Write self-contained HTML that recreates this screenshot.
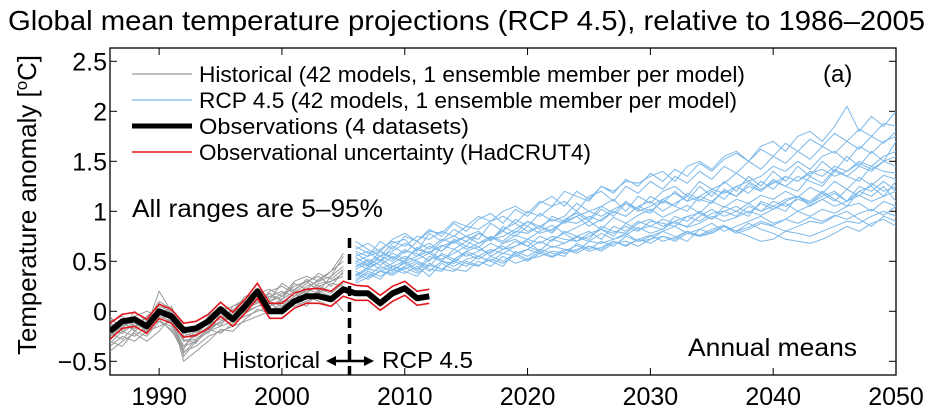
<!DOCTYPE html>
<html><head><meta charset="utf-8"><style>
body{margin:0;background:#fff;}
svg{display:block;font-family:"Liberation Sans",sans-serif;}
</style></head><body>
<svg id="chart" width="933" height="413">
<text x="8" y="30" font-size="28" textLength="917" lengthAdjust="spacingAndGlyphs">Global mean temperature projections (RCP 4.5), relative to 1986–2005</text>
<g id="plot"></g>
<text transform="translate(36,205) rotate(-90)" font-size="26" text-anchor="middle" textLength="300" lengthAdjust="spacingAndGlyphs">Temperature anomaly  [<tspan baseline-shift="super" font-size="17">o</tspan>C]</text>
</svg>
<script>
const xTicks=[1990,2000,2010,2020,2030,2040,2050];
const yTicks=[-0.5,0,0.5,1,1.5,2,2.5];
const yTickLabels=["−0.5","0","0.5","1","1.5","2","2.5"];
const obsYears=[1986,1987,1988,1989,1990,1991,1992,1993,1994,1995,1996,1997,1998,1999,2000,2001,2002,2003,2004,2005,2006,2007,2008,2009,2010,2011,2012];
const obs=[-0.2,-0.1,-0.08,-0.15,0.0,-0.05,-0.19,-0.17,-0.1,0.02,-0.08,0.05,0.2,0.0,0.0,0.1,0.15,0.15,0.12,0.22,0.18,0.18,0.08,0.18,0.23,0.13,0.15];
const obsUpper=[-0.12,-0.03,-0.01,-0.08,0.07,0.02,-0.12,-0.1,-0.03,0.09,-0.01,0.12,0.28,0.08,0.08,0.18,0.22,0.23,0.2,0.3,0.26,0.25,0.16,0.25,0.3,0.2,0.22];
const obsLower=[-0.28,-0.17,-0.15,-0.22,-0.07,-0.12,-0.26,-0.24,-0.17,-0.05,-0.15,-0.02,0.13,-0.07,-0.07,0.03,0.08,0.08,0.05,0.15,0.11,0.11,0.01,0.1,0.16,0.06,0.08];
const histStart=1986;
const hist1=[-0.25,-0.15,-0.1,-0.2,-0.05,-0.1,-0.3,-0.25,-0.15,-0.05,-0.1,0.0,0.05,0.1,0.05,0.15,0.2,0.25,0.2,0.3];
const hist2=[-0.1,-0.05,-0.15,-0.05,0.05,0.0,-0.2,-0.15,-0.1,0.0,0.05,0.1,0.15,0.05,0.12,0.2,0.18,0.28,0.3,0.35];
const hist3=[-0.3,-0.35,-0.2,-0.25,-0.1,-0.15,-0.4,-0.35,-0.25,-0.2,-0.15,-0.1,-0.05,0.0,0.08,0.05,0.1,0.15,0.1,0.2];
const hist4=[-0.15,-0.1,-0.05,0.0,-0.05,0.05,-0.25,-0.2,-0.1,-0.05,0.0,0.05,0.1,0.15,0.2,0.15,0.25,0.3,0.35,0.45];
const hist5=[-0.05,-0.2,-0.1,-0.15,0.2,0.0,-0.45,-0.3,-0.2,-0.1,-0.05,0.0,0.2,0.1,0.15,0.25,0.3,0.2,0.35,0.55];
const hist6=[-0.2,-0.1,-0.2,-0.1,0.0,-0.05,-0.3,-0.28,-0.18,-0.1,-0.02,0.08,0.12,0.1,0.18,0.22,0.3,0.35,0.25,0.4];
const hist7=[-0.35,-0.25,-0.3,-0.2,-0.15,-0.1,-0.35,-0.3,-0.2,-0.15,-0.1,-0.05,0.0,0.05,0.1,0.08,0.15,0.1,0.05,0.15];
const hist8=[-0.12,-0.18,0.0,-0.1,0.1,0.02,-0.15,-0.2,-0.05,0.05,0.0,0.15,0.18,0.22,0.15,0.3,0.35,0.3,0.4,0.5];
const hist9=[-0.22,-0.28,-0.15,-0.12,-0.08,-0.2,-0.35,-0.22,-0.12,-0.08,0.02,0.03,0.08,0.18,0.1,0.12,0.22,0.18,0.28,0.25];
const hist10=[-0.4,-0.3,-0.22,-0.3,-0.2,-0.05,-0.5,-0.4,-0.3,-0.18,-0.2,-0.08,0.02,-0.02,0.05,0.1,0.05,0.2,0.15,0.0];
const hist11=[-0.18,-0.22,-0.12,-0.18,0.02,-0.08,-0.28,-0.32,-0.15,-0.12,-0.05,0.1,0.08,0.2,0.25,0.18,0.28,0.38,0.32,0.42];
const hist12=[-0.28,-0.12,-0.18,-0.05,-0.02,-0.12,-0.38,-0.18,-0.22,-0.02,-0.08,0.02,0.12,0.15,0.12,0.28,0.22,0.32,0.4,0.58];
const hist13=[-0.08,-0.15,-0.08,-0.22,0.08,-0.02,-0.22,-0.25,-0.08,-0.15,0.05,0.12,0.22,0.12,0.28,0.2,0.32,0.25,0.3,0.38];
const hist14=[-0.32,-0.2,-0.25,-0.15,-0.1,-0.18,-0.42,-0.28,-0.18,-0.22,-0.12,-0.02,0.05,0.08,0.0,0.12,0.08,0.22,0.18,0.28];
const rcpStart=2006;
const rcp1=[0.6,0.55,0.7,0.62,0.75,0.7,0.8,0.78,0.9,0.85,0.95,0.9,1.0,1.05,0.98,1.1,1.05,1.2,1.15,1.1,1.25,1.2,1.3,1.28,1.35,1.4,1.3,1.45,1.5,1.42,1.55,1.6,1.5,1.65,1.7,1.6,1.75,1.8,1.7,1.85,2.05,1.8,1.95,1.85,2.0];
const rcp2=[0.5,0.45,0.55,0.5,0.6,0.58,0.5,0.65,0.7,0.62,0.68,0.75,0.7,0.8,0.78,0.85,0.8,0.9,0.88,0.95,0.9,1.0,0.95,1.05,1.0,1.1,1.05,1.0,1.15,1.1,1.2,1.15,1.25,1.2,1.3,1.25,1.35,1.3,1.25,1.4,1.35,1.45,1.4,1.5,1.45];
const rcp3=[0.4,0.35,0.45,0.4,0.5,0.42,0.55,0.5,0.48,0.6,0.55,0.62,0.58,0.65,0.7,0.6,0.72,0.68,0.75,0.8,0.72,0.85,0.8,0.9,0.85,0.82,0.95,0.9,1.0,0.92,1.05,1.0,0.95,1.1,1.05,1.0,1.15,1.1,1.2,1.12,1.05,1.2,1.15,1.25,1.1];
const rcp4=[0.3,0.38,0.32,0.45,0.4,0.35,0.48,0.42,0.5,0.45,0.55,0.5,0.45,0.6,0.55,0.62,0.58,0.55,0.68,0.62,0.7,0.65,0.75,0.7,0.72,0.8,0.75,0.7,0.82,0.78,0.85,0.8,0.75,0.7,0.72,0.8,0.85,0.9,0.88,0.95,1.0,0.92,0.85,0.95,0.9];
const rcp5=[0.55,0.6,0.5,0.65,0.58,0.7,0.62,0.72,0.68,0.75,0.8,0.7,0.85,0.78,0.9,0.82,0.95,0.9,1.0,0.92,1.05,0.98,1.1,1.02,1.15,1.08,1.2,1.1,1.25,1.15,1.3,1.2,1.35,1.25,1.4,1.3,1.45,1.35,1.5,1.4,1.55,1.45,1.6,1.5,1.7];
const rcp6=[0.45,0.5,0.42,0.48,0.55,0.5,0.45,0.58,0.52,0.6,0.65,0.55,0.62,0.7,0.65,0.6,0.72,0.78,0.7,0.75,0.82,0.78,0.85,0.8,0.9,0.88,0.85,0.95,0.9,0.98,1.0,0.95,1.05,1.0,1.1,1.05,1.12,1.08,1.15,1.2,1.1,1.25,1.2,1.3,1.2];
const rcp7=[0.35,0.42,0.4,0.38,0.45,0.5,0.42,0.4,0.52,0.48,0.45,0.55,0.5,0.58,0.52,0.55,0.6,0.58,0.62,0.65,0.6,0.68,0.7,0.65,0.72,0.75,0.7,0.78,0.75,0.8,0.85,0.78,0.82,0.88,0.85,0.8,0.78,0.75,0.8,0.85,0.9,0.88,0.95,1.0,0.95];
const rcp8=[0.65,0.58,0.62,0.7,0.65,0.75,0.72,0.8,0.75,0.85,0.82,0.9,0.95,0.88,1.0,0.95,1.05,1.1,1.0,1.15,1.2,1.1,1.25,1.18,1.3,1.22,1.35,1.28,1.4,1.32,1.45,1.38,1.5,1.42,1.55,1.48,1.6,1.52,1.65,1.58,1.7,1.62,1.75,1.68,1.8];
const rcp9=[0.42,0.48,0.52,0.45,0.5,0.55,0.6,0.52,0.58,0.65,0.62,0.58,0.68,0.72,0.65,0.75,0.7,0.8,0.75,0.72,0.85,0.8,0.78,0.88,0.92,0.85,0.9,0.95,0.98,0.92,1.0,1.05,0.98,1.08,1.02,1.1,1.15,1.05,1.12,1.18,1.1,1.2,1.25,1.15,1.3];
const rcp10=[0.5,0.55,0.6,0.52,0.62,0.55,0.65,0.6,0.7,0.75,0.68,0.72,0.8,0.75,0.85,0.78,0.82,0.9,0.95,0.85,0.92,1.0,0.95,1.05,1.1,1.0,1.08,1.15,1.1,1.2,1.12,1.25,1.18,1.3,1.22,1.35,1.3,1.4,1.35,1.45,1.4,1.5,1.45,1.55,1.6];
const rcp11=[0.38,0.32,0.4,0.45,0.42,0.48,0.4,0.5,0.45,0.52,0.55,0.5,0.58,0.55,0.62,0.58,0.65,0.62,0.6,0.7,0.68,0.72,0.78,0.7,0.75,0.8,0.85,0.78,0.82,0.88,0.8,0.85,0.9,0.95,0.88,0.92,1.0,0.95,1.02,0.98,1.05,1.08,1.0,1.1,1.05];
const rcp12=[0.58,0.5,0.55,0.6,0.68,0.62,0.58,0.7,0.75,0.7,0.78,0.72,0.82,0.88,0.8,0.85,0.92,0.88,0.95,1.0,0.95,1.02,1.08,1.0,1.05,1.12,1.18,1.1,1.15,1.22,1.18,1.25,1.3,1.22,1.28,1.35,1.3,1.38,1.42,1.35,1.4,1.48,1.42,1.5,1.55];
const rcp13=[0.7,0.62,0.55,0.68,0.72,0.6,0.78,0.7,0.82,0.75,0.72,0.88,0.8,0.92,0.85,0.98,0.9,0.95,1.08,1.0,1.05,1.12,1.0,1.15,1.08,1.2,1.25,1.15,1.3,1.22,1.28,1.38,1.3,1.35,1.45,1.4,1.5,1.42,1.55,1.6,1.5,1.65,1.58,1.7,1.75];
const rcp14=[0.32,0.4,0.35,0.42,0.38,0.45,0.35,0.48,0.42,0.4,0.5,0.45,0.55,0.48,0.52,0.6,0.55,0.62,0.58,0.65,0.62,0.7,0.65,0.72,0.68,0.75,0.72,0.8,0.75,0.78,0.85,0.8,0.88,0.82,0.78,0.72,0.7,0.68,0.72,0.78,0.85,0.8,0.88,0.92,0.85];
const rcp15=[0.48,0.42,0.5,0.58,0.52,0.62,0.68,0.6,0.72,0.65,0.78,0.72,0.75,0.82,0.9,0.85,0.78,0.92,0.98,0.9,1.02,0.95,1.08,1.02,0.98,1.12,1.05,1.18,1.12,1.08,1.22,1.15,1.28,1.2,1.32,1.25,1.2,1.35,1.28,1.42,1.35,1.3,1.45,1.4,1.38];
const rcp16=[0.44,0.52,0.46,0.55,0.48,0.52,0.58,0.5,0.62,0.55,0.6,0.68,0.62,0.65,0.72,0.68,0.75,0.72,0.7,0.78,0.82,0.75,0.88,0.82,0.85,0.92,0.88,0.85,0.95,1.02,0.95,1.0,1.08,1.0,1.05,1.12,1.15,1.08,1.18,1.1,1.22,1.15,1.28,1.2,1.25];
const rcp17=[0.62,0.68,0.6,0.72,0.78,0.7,0.82,0.75,0.88,0.8,0.92,0.98,0.88,1.02,0.95,1.08,1.15,1.05,1.2,1.12,1.25,1.18,1.32,1.25,1.38,1.3,1.42,1.35,1.48,1.4,1.52,1.58,1.5,1.62,1.55,1.68,1.6,1.72,1.65,1.78,1.7,1.82,1.75,1.88,1.85];
const rcp18=[0.36,0.44,0.5,0.42,0.48,0.4,0.52,0.56,0.5,0.58,0.52,0.6,0.65,0.58,0.62,0.7,0.64,0.68,0.74,0.7,0.78,0.72,0.76,0.84,0.78,0.82,0.9,0.84,0.88,0.95,0.9,0.94,1.0,0.96,1.02,1.08,1.0,1.06,1.12,1.05,1.1,1.16,1.1,1.15,1.2];
const rcp19=[0.54,0.46,0.6,0.54,0.5,0.64,0.58,0.66,0.62,0.7,0.64,0.74,0.68,0.76,0.72,0.8,0.86,0.78,0.84,0.9,0.82,0.94,0.88,0.96,1.02,0.94,1.0,1.06,0.98,1.1,1.04,1.12,1.08,1.16,1.12,1.2,1.14,1.24,1.18,1.3,1.22,1.34,1.26,1.36,1.32];
const rcp20=[0.28,0.34,0.4,0.36,0.44,0.38,0.46,0.42,0.4,0.5,0.46,0.52,0.48,0.56,0.5,0.58,0.54,0.6,0.66,0.6,0.64,0.7,0.66,0.72,0.76,0.7,0.74,0.8,0.76,0.82,0.86,0.8,0.84,0.9,0.86,0.92,0.88,0.94,0.9,0.96,0.92,0.98,1.02,0.96,1.05];

const histModels=[hist1,hist2,hist3,hist4,hist5,hist6,hist7,hist8,hist9,hist10,hist11,hist12,hist13,hist14];
const rcpModels=[rcp1,rcp2,rcp3,rcp4,rcp5,rcp6,rcp7,rcp8,rcp9,rcp10,rcp11,rcp12,rcp13,rcp14,rcp15,rcp16,rcp17,rcp18,rcp19,rcp20];

const L=110,R=896,T=48,B=375;
const X0=1986,X1=2050,Y0=-0.637,Y1=2.633;
function sx(v){return L+(v-X0)/(X1-X0)*(R-L);}
function sy(v){return B-(v-Y0)/(Y1-Y0)*(B-T);}
const NS="http://www.w3.org/2000/svg";
const plot=document.getElementById('plot');
function mk(tag,attrs,parent){const e=document.createElementNS(NS,tag);for(const k in attrs)e.setAttribute(k,attrs[k]);(parent||plot).appendChild(e);return e;}
function pts(start,vals){return vals.map((v,i)=>sx(start+i).toFixed(1)+','+sy(v).toFixed(1)).join(' ');}

const frame=mk('rect',{x:L,y:T,width:R-L,height:B-T,fill:'none',stroke:'#000','stroke-width':1.3});



xTicks.forEach(t=>{
  const x=sx(t);
  mk('line',{x1:x,x2:x,y1:B,y2:B-7,stroke:'#000'});
  mk('line',{x1:x,x2:x,y1:T,y2:T+7,stroke:'#000'});
  const lb=mk('text',{x:x,y:405,'font-size':25,'text-anchor':'middle'});
  lb.textContent=t;
  
  
});
yTicks.forEach((t,i)=>{
  const y=sy(t);
  mk('line',{x1:L,x2:L+7,y1:y,y2:y,stroke:'#000'});
  mk('line',{x1:R,x2:R-7,y1:y,y2:y,stroke:'#000'});
  const lb=mk('text',{x:L-3,y:y+9,'font-size':25,'text-anchor':'end'});
  lb.textContent=yTickLabels[i];
  
  
});

const clip=mk('clipPath',{id:'cp'});
mk('rect',{x:L,y:T,width:R-L,height:B-T},clip);
const g=mk('g',{'clip-path':'url(#cp)'});

histModels.forEach(m=>{
  const p=mk('polyline',{points:pts(histStart,m),fill:'none',stroke:'#9a9a9a','stroke-width':1},g);
  
  
});
rcpModels.forEach(m=>{
  const p=mk('polyline',{points:pts(rcpStart,m),fill:'none',stroke:'#7ab8ea','stroke-width':1},g);
  
  
});
const ob=mk('polyline',{points:pts(obsYears[0],obs),fill:'none',stroke:'#000','stroke-width':6,'stroke-linejoin':'round'},g);


[obsUpper,obsLower].forEach(a=>{
  const p=mk('polyline',{points:pts(obsYears[0],a),fill:'none',stroke:'#e0161c','stroke-width':1.6},g);
  
  
});

const dv=mk('line',{x1:sx(2005.5),x2:sx(2005.5),y1:238,y2:B,stroke:'#000','stroke-width':3.5,'stroke-dasharray':'10,6'});



const legend=[['#9a9a9a',1.2,'Historical (42 models, 1 ensemble member per model)',546],
['#8ec4ee',1.5,'RCP 4.5 (42 models, 1 ensemble member per model)',538],
['#000',5,'Observations (4 datasets)',270],
['#e0161c',1.6,'Observational uncertainty (HadCRUT4)',392]];
legend.forEach((e,i)=>{
  const y=74+i*26;
  const ln=mk('line',{x1:132,x2:192,y1:y,y2:y,stroke:e[0],'stroke-width':e[1]});
  
  
  const t=mk('text',{x:199,y:y+8,'font-size':22,textLength:e[3],lengthAdjust:'spacingAndGlyphs'});
  t.textContent=e[2];
  
  
});

function label(x,y,s,txt,name,w){const a={x:x,y:y,'font-size':s};if(w){a.textLength=w;a.lengthAdjust='spacingAndGlyphs';}const t=mk('text',a);t.textContent=txt;return t;}
label(823,82,24,'(a)','panel-label');
label(132,217,25,'All ranges are 5–95%','ranges-note',251);
label(688,356,25,'Annual means','annual-means-note',169);
label(222,368,23,'Historical','historical-label',98);
label(382,368,23,'RCP 4.5','rcp45-label',91);
mk('line',{x1:332,x2:368,y1:361,y2:361,stroke:'#000','stroke-width':2.5});
mk('polygon',{points:'326,361 336,356 336,366',fill:'#000'});
mk('polygon',{points:'374,361 364,356 364,366',fill:'#000'});
</script>
</body></html>
